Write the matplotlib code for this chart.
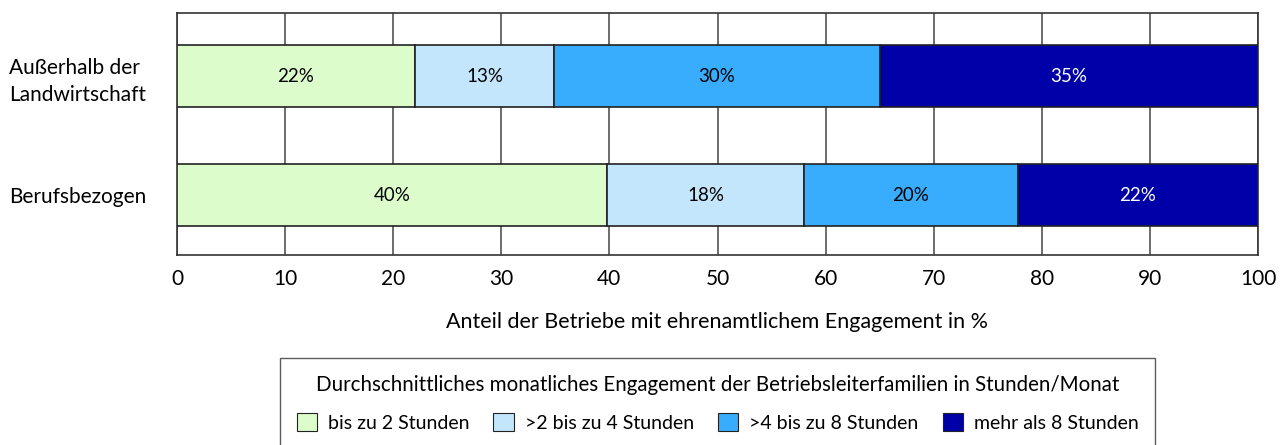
import matplotlib.pyplot as plt
import numpy as np

plt.rcParams['font.family'] = ['Lato', 'DejaVu Sans']

categories = ['Außerhalb der\nLandwirtschaft', 'Berufsbezogen']
series = ['bis zu 2 Stunden', '>2 bis zu 4 Stunden', '>4 bis zu 8 Stunden', 'mehr als 8 Stunden']
shares = [
    [22.0, 39.8],   # bis zu 2 Stunden
    [12.9, 18.2],   # >2 bis zu 4 Stunden
    [30.1, 19.8],   # >4 bis zu 8 Stunden
    [35.0, 22.2],   # mehr als 8 Stunden
]
colors = ['#DCFCCC', '#C4E6FC', '#38ADFD', '#0000A8']
text_colors = ['black', 'black', 'black', 'white']

fig = plt.figure(figsize=(12.84, 4.45), dpi=100)
ax = fig.add_axes([177 / 1284, 1 - 255 / 445, 1081 / 1284, 242 / 445])

y = np.arange(len(categories))
left = np.zeros(len(categories))
for vals, name, c, tc in zip(shares, series, colors, text_colors):
    vals = np.array(vals)
    ax.barh(y, vals, left=left, height=0.52, color=c, edgecolor='#222222',
            linewidth=1.2, label=name, zorder=3)
    for yi, l, v in zip(y, left, vals):
        ax.text(l + v / 2, yi, f'{v:.0f}%', ha='center', va='center',
                color=tc, fontsize=13.5, zorder=4)
    left += vals

ax.set_xlim(0, 100)
ax.set_ylim(1.5, -0.53)
ax.set_xticks(np.arange(0, 101, 10))
ax.xaxis.grid(True, color='#444444', linewidth=1.1, zorder=0)
ax.set_yticks(y)
ax.set_yticklabels(categories, ha='left', fontsize=15)
for t in ax.get_yticklabels():
    t.set_linespacing(1.4)
ax.tick_params(axis='y', length=0, pad=121)
ax.tick_params(axis='x', length=0, pad=10, labelsize=15)
for s in ax.spines.values():
    s.set_color('#333333')
    s.set_linewidth(1.2)

ax.set_xlabel('Anteil der Betriebe mit ehrenamtlichem Engagement in %',
              fontsize=15.5, labelpad=17)

leg = fig.legend(loc='upper center', bbox_to_anchor=(717.5 / 1284, 1 - 358 / 445), ncol=4,
                 title='Durchschnittliches monatliches Engagement der Betriebsleiterfamilien in Stunden/Monat',
                 fontsize=14, title_fontsize=14.8, fancybox=False, edgecolor='#333333',
                 handlelength=1.05, handleheight=1.05, handletextpad=0.55, columnspacing=1.25,
                 borderpad=0.85, labelspacing=0.95, borderaxespad=0)
leg.get_frame().set_linewidth(1.0)
for h in leg.legend_handles:
    h.set_linewidth(0.8)

fig.savefig('out.png', dpi=100)
